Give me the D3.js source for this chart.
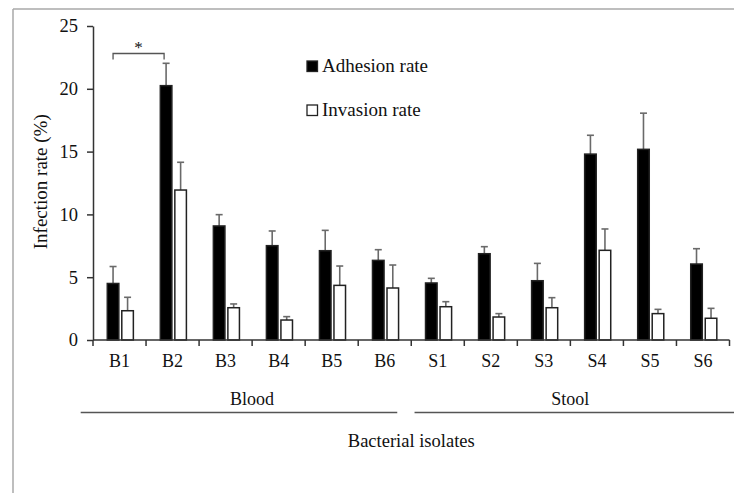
<!DOCTYPE html>
<html>
<head>
<meta charset="utf-8">
<script src="https://cdn.jsdelivr.net/npm/d3@7/dist/d3.min.js"></script>
<style>
  html, body { margin: 0; padding: 0; background: #fff; }
  svg { display: block; }
  text { font-family: "Liberation Serif", "Times New Roman", serif; fill: #111; }
</style>
</head>
<body>
<svg id="chart" width="734" height="493"></svg>
<script>
// ---- data ----
const categories = ["B1","B2","B3","B4","B5","B6","S1","S2","S3","S4","S5","S6"];
const adhesion    = [4.5, 20.25, 9.08, 7.51, 7.11, 6.34, 4.54, 6.87, 4.72, 14.8, 15.18, 6.05];
const adhesionErr = [1.35, 1.78, 0.9, 1.17, 1.62, 0.85, 0.37, 0.56, 1.38, 1.5, 2.88, 1.22];
const invasion    = [2.33, 11.94, 2.57, 1.59, 4.35, 4.14, 2.65, 1.83, 2.57, 7.14, 2.1, 1.73];
const invasionErr = [1.07, 2.21, 0.3, 0.27, 1.54, 1.83, 0.4, 0.27, 0.8, 1.7, 0.34, 0.79];
const yTicks = [0, 5, 10, 15, 20, 25];
const seriesNames = ["Adhesion rate", "Invasion rate"];
const groups = [
  { name: "Blood", members: ["B1","B2","B3","B4","B5","B6"] },
  { name: "Stool", members: ["S1","S2","S3","S4","S5","S6"] }
];
const xTitle = "Bacterial isolates";
const yTitle = "Infection rate (%)";

// ---- layout ----
const W = 734, H = 493;
const svg = d3.select("#chart");
svg.append("rect").attr("width", W).attr("height", H).attr("fill", "#fff");

// frame (top + left border of the original figure)
svg.append("line").attr("x1", 13).attr("x2", W).attr("y1", 9).attr("y2", 9)
  .attr("stroke", "#a8a8a8").attr("stroke-width", 1.5);
svg.append("line").attr("x1", 13).attr("x2", 13).attr("y1", 9).attr("y2", H)
  .attr("stroke", "#a8a8a8").attr("stroke-width", 1.5);

const x = d3.scaleBand().domain(categories).range([93, 729.5]).padding(0);
const bw = x.bandwidth();
const sub = d3.scaleBand().domain(["adh","inv"]).range([bw * 0.255, bw * 0.775]).paddingInner(0.1);
const y = d3.scaleLinear().domain([0, 25]).range([340, 26]);

const axisColor = "#333";

// y axis
const yAxis = svg.append("g").attr("transform", "translate(93,0)")
  .call(d3.axisLeft(y).tickValues(yTicks).tickSize(6).tickPadding(9).tickSizeOuter(0));
yAxis.select(".domain").attr("stroke", axisColor).attr("stroke-width", 1.5);
yAxis.selectAll(".tick line").attr("stroke", axisColor).attr("stroke-width", 1.5);
yAxis.selectAll(".tick text").style("font-family", '"Liberation Serif", serif')
  .style("font-size", "18.5px").attr("fill", "#111");

// bars data
const data = categories.map((c, i) => ({
  cat: c,
  vals: [
    { key: "adh", v: adhesion[i], e: adhesionErr[i] },
    { key: "inv", v: invasion[i], e: invasionErr[i] }
  ]
}));

const gCat = svg.append("g").selectAll("g").data(data).join("g")
  .attr("transform", d => `translate(${x(d.cat)},0)`);

// error bars (drawn first so bar covers lower part)
const eg = gCat.selectAll("g.err").data(d => d.vals).join("g").attr("class", "err");
eg.append("line")
  .attr("x1", d => sub(d.key) + sub.bandwidth() / 2)
  .attr("x2", d => sub(d.key) + sub.bandwidth() / 2)
  .attr("y1", d => y(d.v)).attr("y2", d => y(d.v + d.e))
  .attr("stroke", "#6a6a6a").attr("stroke-width", 1.6);
eg.append("line")
  .attr("x1", d => sub(d.key) + sub.bandwidth() / 2 - 3.5)
  .attr("x2", d => sub(d.key) + sub.bandwidth() / 2 + 3.5)
  .attr("y1", d => y(d.v + d.e)).attr("y2", d => y(d.v + d.e))
  .attr("stroke", "#6a6a6a").attr("stroke-width", 1.6);

gCat.selectAll("rect.bar").data(d => d.vals).join("rect").attr("class", "bar")
  .attr("x", d => sub(d.key) + 0.75)
  .attr("width", sub.bandwidth() - 1.5)
  .attr("y", d => y(d.v))
  .attr("height", d => y(0) - y(d.v))
  .attr("fill", d => d.key === "adh" ? "#000" : "#fff")
  .attr("stroke", "#222").attr("stroke-width", 1.5);

// x axis
const xAxis = svg.append("g").attr("transform", "translate(0,340)")
  .call(d3.axisBottom(x).tickSize(0).tickPadding(14));
xAxis.select(".domain").attr("stroke", axisColor).attr("stroke-width", 1.5)
  .attr("d", `M${x.range()[0]},0H${x.range()[1]}`);
xAxis.selectAll(".tick text").style("font-family", '"Liberation Serif", serif')
  .style("font-size", "18px").attr("fill", "#111");
// tick marks at band boundaries
const bounds = categories.map(c => x(c)).concat([x.range()[1]]);
xAxis.selectAll("line.bnd").data(bounds).join("line").attr("class", "bnd")
  .attr("x1", d => d).attr("x2", d => d).attr("y1", 0).attr("y2", 6)
  .attr("stroke", axisColor).attr("stroke-width", 1.5);

// group labels and lines
const lineY = 412.5;
groups.forEach((g, gi) => {
  const x0 = x(g.members[0]);
  const x1 = x(g.members[g.members.length - 1]) + bw;
  svg.append("text").attr("x", (x0 + x1) / 2).attr("y", 405)
    .attr("text-anchor", "middle").style("font-size", "18px").text(g.name);
  const lx0 = gi === 0 ? x0 - 12.3 : x0 + 3.3;
  const lx1 = gi === 0 ? x1 - 14 : W;
  svg.append("line").attr("x1", lx0).attr("x2", lx1).attr("y1", lineY).attr("y2", lineY)
    .attr("stroke", "#555").attr("stroke-width", 1.5);
});

// x title
svg.append("text").attr("x", (x.range()[0] + x.range()[1]) / 2).attr("y", 447)
  .attr("text-anchor", "middle").style("font-size", "18.5px").text(xTitle);

// y title
svg.append("text").attr("transform", `translate(47,${y(12.6)}) rotate(-90)`)
  .attr("text-anchor", "middle").style("font-size", "19px").text(yTitle);

// legend
const legend = svg.append("g");
seriesNames.forEach((s, i) => {
  const ly = 72 + i * 44;
  legend.append("rect").attr("x", 307).attr("y", ly - 11).attr("width", 10.5).attr("height", 10.5)
    .attr("fill", i === 0 ? "#000" : "#fff").attr("stroke", "#222").attr("stroke-width", 1.3);
  legend.append("text").attr("x", 322).attr("y", ly).style("font-size", "19px").text(s);
});

// significance bracket between B1 and B2 adhesion bars
const bx1 = x("B1") + sub("adh") + sub.bandwidth() / 2;
const bx2 = x("B2") + sub("adh") + sub.bandwidth() / 2 - 2;
const by = 53.5;
svg.append("path").attr("d", `M${bx1},${by + 6}V${by}H${bx2}V${by + 6}`)
  .attr("fill", "none").attr("stroke", "#555").attr("stroke-width", 1.3);
svg.append("text").attr("x", (bx1 + bx2) / 2).attr("y", by - 0.5)
  .attr("text-anchor", "middle").style("font-size", "17px").text("*");
</script>
</body>
</html>
